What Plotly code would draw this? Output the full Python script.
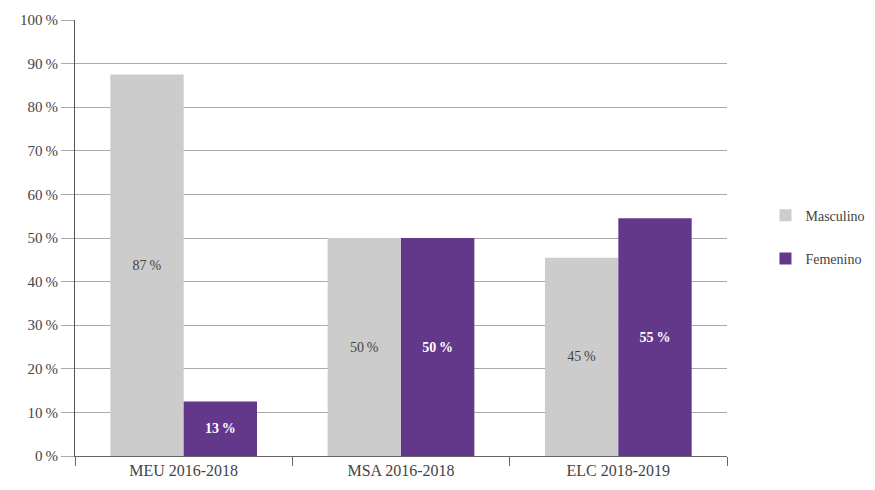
import plotly.graph_objects as go

# Data
programas = ["MEU 2016-2018", "MSA 2016-2018", "ELC 2018-2019"]
masculino = [87.5, 50.0, 45.45]
femenino = [12.5, 50.0, 54.55]
masculino_txt = ["87\u2009%", "50\u2009%", "45\u2009%"]
femenino_txt = ["13\u2009%", "50\u2009%", "55\u2009%"]
y_ticks = [0, 10, 20, 30, 40, 50, 60, 70, 80, 90, 100]
y_ticktext = [f"{v}\u2009%" for v in y_ticks]

GRIS = "#cccccc"
MORADO = "#63388a"
FONT = "Liberation Serif"

fig = go.Figure()

fig.add_trace(go.Bar(
    x=programas,
    y=masculino,
    name="Masculino",
    legendgroup="m",
    marker=dict(color=GRIS, line=dict(width=0)),
    text=masculino_txt,
    textposition="inside",
    insidetextanchor="middle",
    textfont=dict(family=FONT, size=14, color="#444444"),
))

fig.add_trace(go.Bar(
    x=programas,
    y=femenino,
    name="Femenino",
    legendgroup="f",
    marker=dict(color=MORADO, line=dict(width=0)),
    text=femenino_txt,
    textposition="inside",
    insidetextanchor="middle",
    textfont=dict(family=FONT, size=14, color="white", weight="bold"),
))

# page body adds an 8px offset, margins compensate for it
fig.update_layout(
    width=875,
    height=490,
    barmode="group",
    bargap=0.325,
    bargroupgap=0,
    plot_bgcolor="white",
    paper_bgcolor="white",
    font=dict(family=FONT, size=15, color="#444444"),
    margin=dict(l=67, r=156, t=12, b=42),
    legend=dict(
        x=1.059, y=0.502, xanchor="left", yanchor="middle",
        font=dict(family=FONT, size=14, color="#444444"),
        tracegroupgap=22,
    ),
)

fig.update_xaxes(
    automargin=False,
    showgrid=False,
    showline=True,
    linecolor="#666666",
    linewidth=1,
    ticks="outside",
    tickson="boundaries",
    ticklen=9,
    tickcolor="#666666",
    tickfont=dict(family=FONT, size=16, color="#444444"),
)

fig.update_yaxes(
    automargin=False,
    range=[0, 100],
    tickvals=y_ticks,
    ticktext=y_ticktext,
    showgrid=True,
    gridcolor="#aaaaaa",
    gridwidth=1,
    showline=True,
    linecolor="#555555",
    linewidth=1,
    ticks="outside",
    ticklen=13,
    tickcolor="#aaaaaa",
    tickfont=dict(family=FONT, size=15, color="#444444"),
    zeroline=False,
)

fig.write_html("out.html")
